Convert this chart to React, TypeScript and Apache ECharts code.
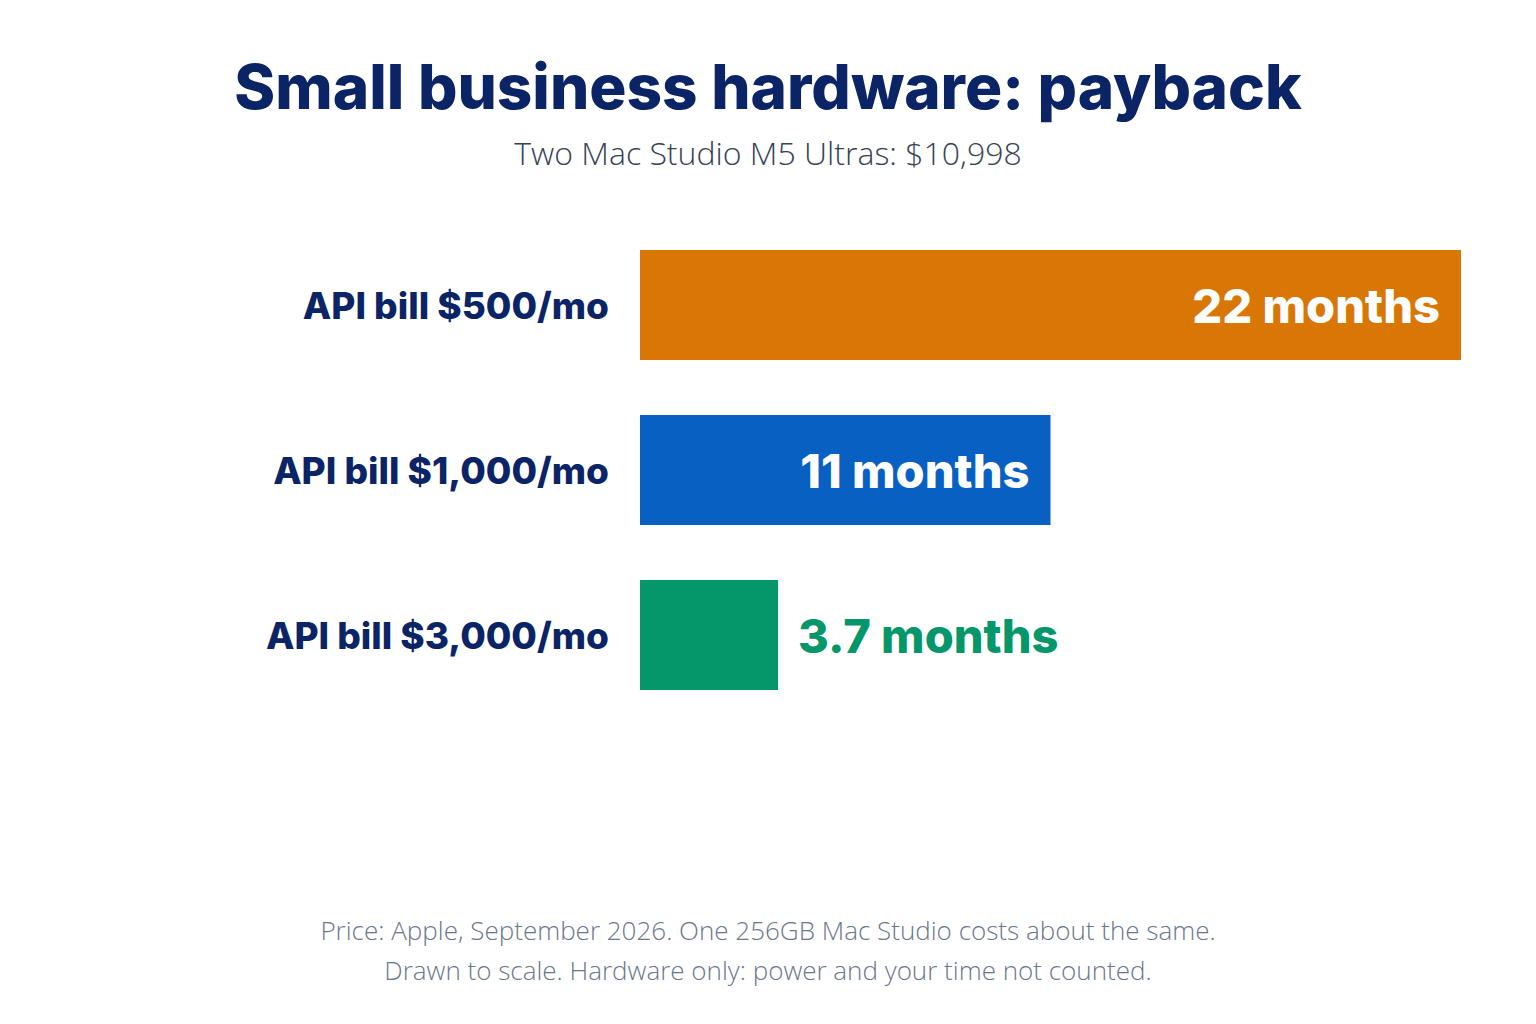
import React, { useEffect, useRef } from "react";
import * as echarts from "echarts";

const categories = ["API bill $500/mo", "API bill $1,000/mo", "API bill $3,000/mo"];
const months = [22, 11, 3.7];
const barColors = ["#d97706", "#0760c2", "#059669"];
const labelInside = [true, true, false];

const titleText = "Small business hardware: payback";
const subtitleText = "Two Mac Studio M5 Ultras: $10,998";
const footerLines = [
  "Price: Apple, September 2026. One 256GB Mac Studio costs about the same.",
  "Drawn to scale. Hardware only: power and your time not counted.",
];

const NAVY = "#0b2466";
const HEAVY = "Inter, 'Open Sans', sans-serif";
const LIGHT = "'Open Sans', 'Noto Sans', sans-serif";

const App: React.FC = () => {
  const ref = useRef<HTMLDivElement>(null);

  useEffect(() => {
    if (!ref.current) return;
    const chart = echarts.init(ref.current, null, { renderer: "svg" });

    const data = months.map((v, i) => ({
      value: v,
      itemStyle: { color: barColors[i] },
      label: labelInside[i]
        ? { position: "insideRight", distance: 21, color: "#ffffff" }
        : { position: "right", distance: 20, color: barColors[i] },
    }));

    chart.setOption({
      animation: false,
      backgroundColor: "#ffffff",
      graphic: [
        {
          type: "text",
          x: 768,
          y: 86,
          style: {
            text: titleText,
            align: "center",
            verticalAlign: "middle",
            font: `800 62px ${HEAVY}`,
            fill: NAVY,
          },
        },
        {
          type: "text",
          x: 768,
          y: 152,
          style: {
            text: subtitleText,
            align: "center",
            verticalAlign: "middle",
            font: `300 32px ${LIGHT}`,
            fill: "#364256",
          },
        },
        ...footerLines.map((line, i) => ({
          type: "text",
          x: 768,
          y: 930 + i * 40,
          style: {
            text: line,
            align: "center",
            verticalAlign: "middle",
            font: `300 26px ${LIGHT}`,
            fill: "#6b778c",
          },
        })),
      ],
      grid: { left: 640, right: 75, top: 222.5, height: 495, containLabel: false },
      xAxis: {
        type: "value",
        min: 0,
        max: 22,
        show: false,
      },
      yAxis: {
        type: "category",
        data: categories,
        inverse: true,
        axisLine: { show: false },
        axisTick: { show: false },
        splitLine: { show: false },
        axisLabel: {
          margin: 31,
          fontFamily: HEAVY,
          fontWeight: 800,
          fontSize: 37,
          color: NAVY,
        },
      },
      series: [
        {
          type: "bar",
          barWidth: 110,
          data,
          label: {
            show: true,
            formatter: "{c} months",
            fontFamily: HEAVY,
            fontWeight: 800,
            fontSize: 47,
          },
        },
      ],
    });

    return () => {
      chart.dispose();
    };
  }, []);

  return (
    <div
      ref={ref}
      style={{ position: "absolute", left: 0, top: 0, width: 1536, height: 1024 }}
    />
  );
};

export default App;
